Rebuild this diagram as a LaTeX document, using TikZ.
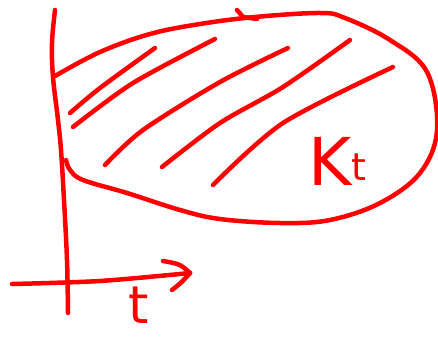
\documentclass[tikz,border=0pt]{standalone}
\usepackage{fontspec}
\setmainfont{DejaVu Sans}
\begin{document}
\begin{tikzpicture}[x=1pt,y=-1pt,
  pen/.style={draw=red,line width=4.5pt,line cap=round,line join=round},
  lbl/.style={text=red,inner sep=0pt,anchor=base}]
\useasboundingbox (0,0) rectangle (438,337);
% vertical axis
\draw[pen] plot[smooth,tension=0.6] coordinates {(55,10) (52,43) (53,77) (58,120) (61,150) (64,200) (67,260) (68,313)};
% horizontal axis
\coordinate (hs) at (12,284);
\coordinate (he) at (190,273);
\draw[pen] plot[smooth] coordinates {(hs) (100,281) (he)};
\draw[pen] (163,261) .. controls (180,264) .. (he);
\draw[pen] (he) .. controls (182,282) .. (172,290);
% blob
\draw[pen] plot[smooth,tension=0.6] coordinates {(55,76) (100,52) (150,34) (200,24) (255,17) (320,13) (345,18) (390,40) (427,72) (437,130) (420,173) (380,203) (330,220) (280,223) (220,219) (180,210) (127,193) (83,180) (70,170) (66,160)};
\draw[pen] (237,10) -- (243,17) -- (257,19);
% hatching
\draw[pen] plot[smooth] coordinates {(70,113) (100,88) (155,48)};
\draw[pen] plot[smooth] coordinates {(73,127) (133,83) (215,39)};
\draw[pen] plot[smooth] coordinates {(105,165) (143,130) (220,82) (288,48)};
\draw[pen] plot[smooth] coordinates {(162,167) (220,123) (283,87) (350,40)};
\draw[pen] plot[smooth] coordinates {(213,185) (283,123) (393,67)};
% labels
\node[lbl] (K) at (330,185) {\fontsize{66}{66}\selectfont K};
\node[lbl,anchor=base west] (Kt) at (351,180) {\fontsize{38}{38}\selectfont t};
\node[lbl] (t) at (139,323) {\fontsize{52}{52}\selectfont t};
\end{tikzpicture}
\end{document}
